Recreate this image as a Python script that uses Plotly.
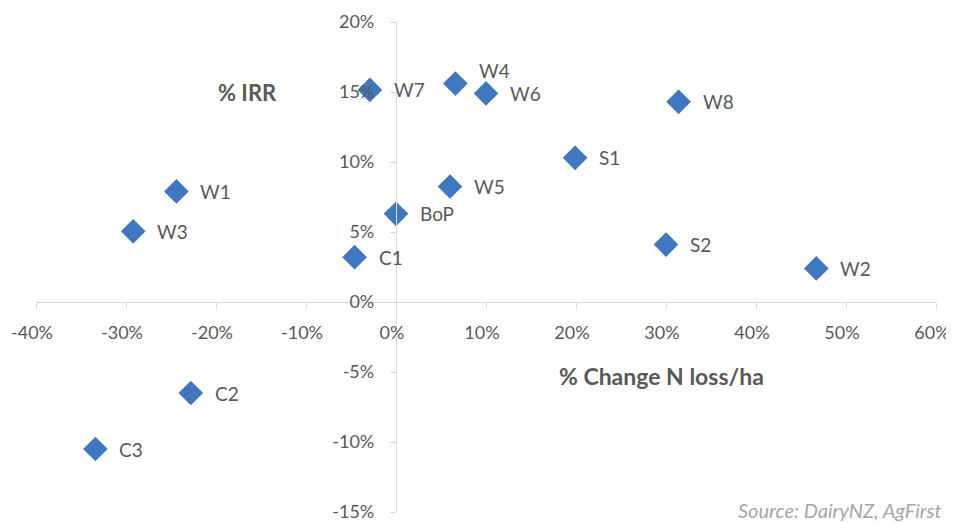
import plotly.graph_objects as go

labels = ["W7", "W4", "W6", "W8", "S1", "W1", "W3", "W5", "BoP", "C1", "S2", "W2", "C2", "C3"]
n_loss_change = [-2.9, 6.6, 10.0, 31.4, 19.9, -24.4, -29.2, 6.0, 0.0, -4.6, 30.0, 46.7, -22.8, -33.4]
irr = [15.15, 15.6, 14.9, 14.3, 10.3, 7.9, 5.05, 8.25, 6.3, 3.2, 4.1, 2.4, -6.5, -10.5]

x_ticks = [-40, -30, -20, -10, 0, 10, 20, 30, 40, 50, 60]
x_ticktext = ["-40%", "-30%", "-20%", "-10%", "0%", "10%", "20%", "30%", "40%", "50%", "60%"]
y_ticks = [-15, -10, -5, 0, 5, 10, 15, 20]
y_ticktext = ["-15%", "-10%", "-5%", "0%", "5%", "10%", "15%", "20%"]

FONT = "Lato, 'Open Sans', sans-serif"
GREY = "#595959"
AXIS = "#d9d9d9"

fig = go.Figure()
fig.add_trace(go.Scatter(
    x=n_loss_change, y=irr, mode="markers",
    marker=dict(symbol="diamond", size=19, color="#3f78bf"),
    hoverinfo="text", text=labels,
))

for lab, xv, yv in zip(labels, n_loss_change, irr):
    fig.add_annotation(
        x=xv, y=yv, text=lab, showarrow=False, xanchor="left", yanchor="middle",
        xshift=22, yshift=13 if lab == "W4" else 0,
        font=dict(family=FONT, size=19, color=GREY),
    )

fig.add_annotation(x=-16.5, y=15.0, text="<b>% IRR</b>", showarrow=False,
                   font=dict(family=FONT, size=22, color=GREY))
fig.add_annotation(x=29.5, y=-5.3, text="<b>% Change N loss/ha</b>", showarrow=False,
                   font=dict(family=FONT, size=23, color=GREY))
fig.add_annotation(xref="paper", yref="paper", x=1.0, y=0, xanchor="right", yanchor="bottom",
                   xshift=8, yshift=-12, text="<i>Source: DairyNZ, AgFirst</i>", showarrow=False,
                   font=dict(family=FONT, size=20, color="#a6a6a6"))

# the page body has an 8px margin, so the figure is sized to fit the 954x523 window
fig.update_layout(
    width=946, height=515,
    margin=dict(l=28, r=18, t=14, b=11, autoexpand=False),
    plot_bgcolor="white", paper_bgcolor="white",
    showlegend=False,
    font=dict(family=FONT, size=19, color=GREY),
    xaxis=dict(
        range=[-40, 60], tickvals=x_ticks, ticktext=x_ticktext,
        tickfont=dict(family=FONT, size=18, color=GREY),
        showgrid=False, zeroline=False, showline=True, linecolor=AXIS, linewidth=1.3,
        ticks="outside", ticklen=6, tickcolor=AXIS, anchor="free", position=15 / 35,
        ticklabelstandoff=8, ticklabelshift=-4, domain=[0, 1], automargin=False,
        ticklabeloverflow="allow",
    ),
    yaxis=dict(
        range=[-15, 20], tickvals=y_ticks, ticktext=y_ticktext,
        tickfont=dict(family=FONT, size=18, color=GREY),
        showgrid=False, zeroline=False, showline=True, linecolor=AXIS, linewidth=1.3,
        ticks="outside", ticklen=6, tickcolor=AXIS, anchor="free", position=0.4,
        ticklabelstandoff=12, domain=[0, 1], automargin=False, ticklabeloverflow="allow",
    ),
)

fig.write_html("out.html")
